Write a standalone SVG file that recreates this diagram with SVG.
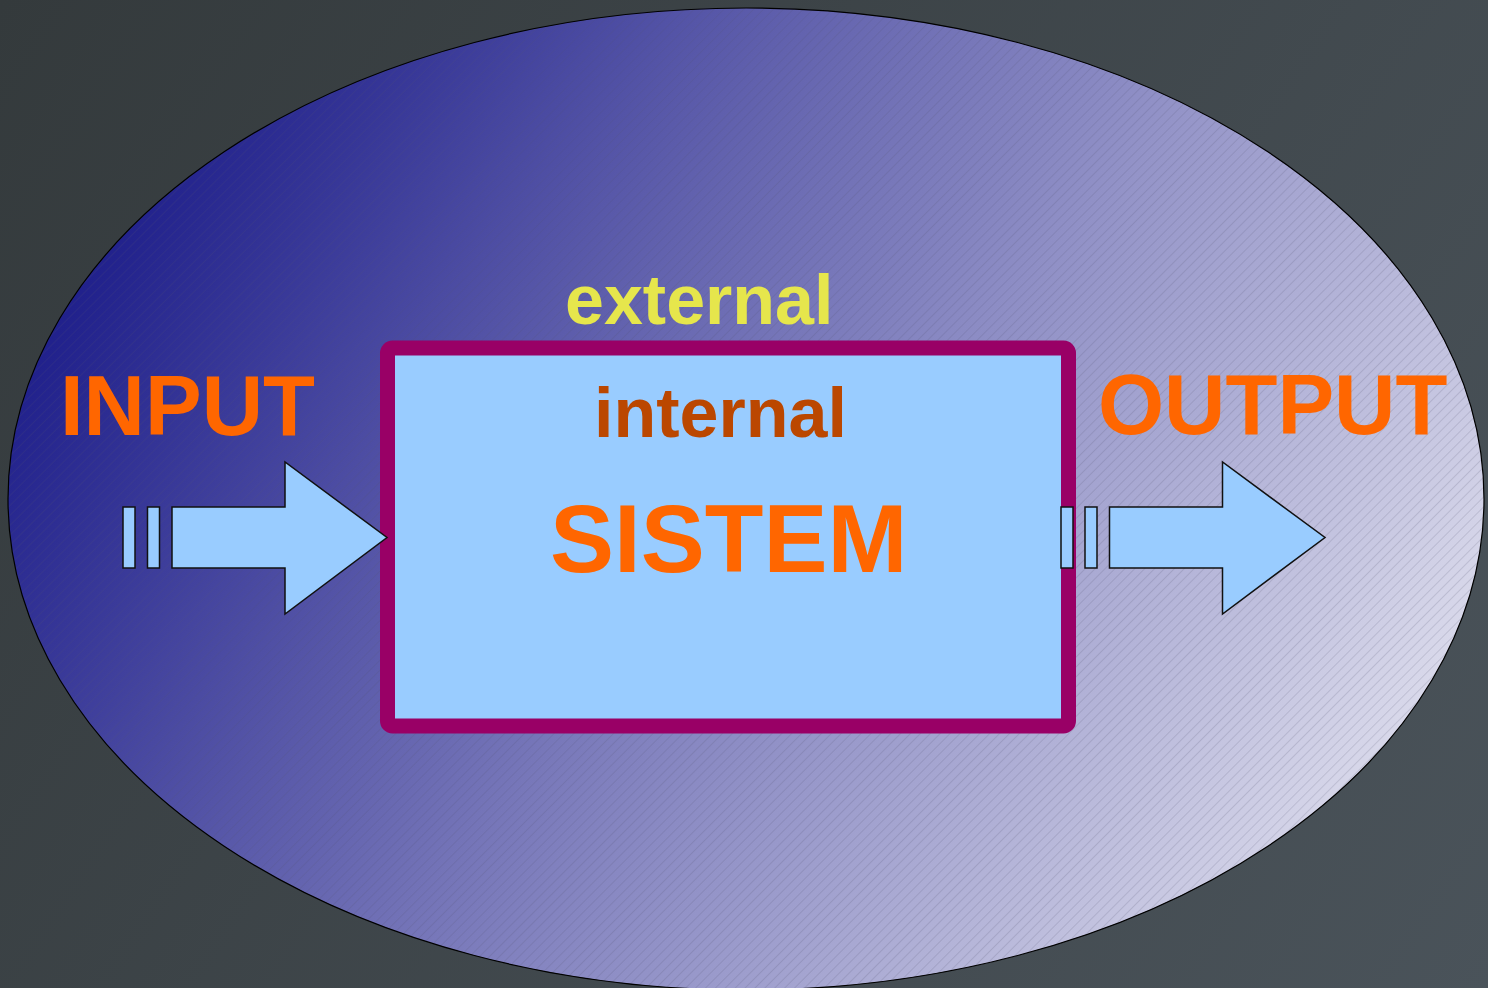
<svg xmlns="http://www.w3.org/2000/svg" width="1488" height="988" viewBox="0 0 1488 988">
  <defs>
    <linearGradient id="bg" x1="0" y1="0" x2="1488" y2="988" gradientUnits="userSpaceOnUse">
      <stop offset="0" stop-color="#343a3c"/>
      <stop offset="1" stop-color="#4a535a"/>
    </linearGradient>
    <linearGradient id="envFill" x1="150" y1="150" x2="1400" y2="900" gradientUnits="userSpaceOnUse">
      <stop offset="0" stop-color="#1f1f8b"/>
      <stop offset="0.5" stop-color="#8282bf"/>
      <stop offset="1" stop-color="#e4e4f0"/>
    </linearGradient>
    <pattern id="hatch" width="7" height="7" patternUnits="userSpaceOnUse" patternTransform="rotate(45)">
      <line x1="0" y1="0" x2="0" y2="7" stroke="#505070" stroke-width="0.8" stroke-opacity="0.45"/>
    </pattern>
  </defs>
  <style>
    .flow { fill: #99ccff; stroke: #111; stroke-width: 1.5; stroke-linejoin: miter; }
    .lbl { font-family: "Liberation Sans", Arial, sans-serif; font-weight: bold; }
    .io { fill: #ff6600; font-size: 85px; }
  </style>

  <!-- background -->
  <rect x="0" y="0" width="1488" height="988" fill="url(#bg)"/>

  <!-- environment ellipse -->
  <g id="environment">
    <ellipse cx="746" cy="499" rx="738" ry="491" fill="url(#envFill)"/>
    <ellipse cx="746" cy="499" rx="738" ry="491" fill="url(#hatch)" stroke="#000" stroke-width="1.2"/>
    <text class="lbl" x="565" y="324" font-size="70" fill="#e6e64c">external</text>
  </g>

  <!-- system box -->
  <g id="system">
    <rect x="387.5" y="348" width="681" height="378" rx="5" fill="#99ccff" stroke="#990066" stroke-width="15"/>
    <text class="lbl" x="594" y="437" font-size="70" fill="#bb4700">internal</text>
    <text class="lbl" x="550" y="572" font-size="96" fill="#ff6600">SISTEM</text>
  </g>

  <!-- input label -->
  <g id="input">
    <text class="lbl io" x="60" y="435">INPUT</text>
  </g>

  <!-- output label -->
  <g id="output">
    <text class="lbl io" x="1098" y="434">OUTPUT</text>
  </g>

  <!-- flow arrows -->
  <g id="connectors">
    <g id="arrow-in">
      <rect class="flow" x="123" y="507" width="12" height="61"/>
      <rect class="flow" x="147.5" y="507" width="12" height="61"/>
      <polygon class="flow" points="172,507 285,507 285,462 387,537.5 285,614 285,568 172,568"/>
    </g>
    <g id="arrow-out">
      <rect class="flow" x="1061" y="507" width="12" height="61"/>
      <rect class="flow" x="1085" y="507" width="12" height="61"/>
      <polygon class="flow" points="1109.5,507 1222.5,507 1222.5,462 1325,537.5 1222.5,614 1222.5,568 1109.5,568"/>
    </g>
  </g>
</svg>
